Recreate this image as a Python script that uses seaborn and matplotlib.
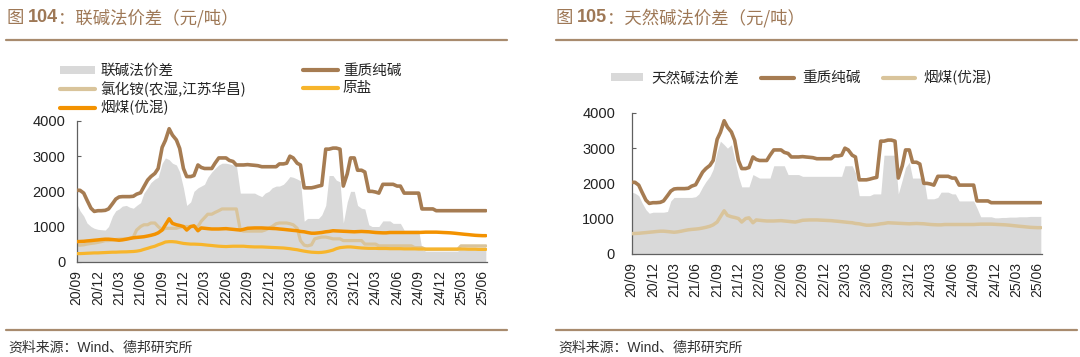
import numpy as np
import pandas as pd
import matplotlib
matplotlib.use('Agg')
import matplotlib.pyplot as plt
import seaborn as sns
from matplotlib.patches import Patch
from matplotlib.lines import Line2D
from matplotlib.text import Annotation
from matplotlib.font_manager import FontProperties

# ---------------- data (semi-monthly, 2020-09 .. 2025-06) ----------------
heavy_soda = [
    2030, 2030, 1950, 1750, 1520, 1430, 1450, 1450, 1460, 1500, 1650, 1780,
    1840, 1850, 1850, 1850, 1860, 1920, 1960, 2130, 2320, 2420, 2510, 2650,
    3250, 3450, 3780, 3600, 3460, 3220, 2650, 2420, 2420, 2450, 2750, 2680,
    2650, 2650, 2650, 2800, 2950, 2950, 2950, 2880, 2850, 2750, 2750, 2750,
    2760, 2750, 2740, 2730, 2700, 2700, 2700, 2700, 2700, 2780, 2780, 2800,
    3000, 2950, 2800, 2750, 2100, 2100, 2100, 2120, 2150, 2170, 3200, 3200,
    3230, 3230, 3200, 2150, 2500, 2950, 2950, 2600, 2600, 2550, 2000, 2000,
    1980, 1950, 2200, 2200, 2200, 2200, 2150, 2150, 1950, 1950, 1950, 1950,
    1950, 1500, 1500, 1500, 1500, 1450, 1450, 1450, 1450, 1450, 1450, 1450,
    1450, 1450, 1450, 1450, 1450, 1450, 1450, 1450,
]
nh4cl = [
    480, 470, 480, 500, 520, 530, 550, 570, 600, 600, 620, 630,
    640, 645, 650, 660, 700, 900, 1000, 1050, 1050, 1100, 1100, 1000,
    900, 950, 950, 950, 950, 980, 1000, 1000, 1000, 1000, 1000, 1150,
    1250, 1350, 1350, 1400, 1450, 1500, 1500, 1500, 1500, 1500, 900, 870,
    870, 870, 870, 870, 870, 900, 950, 1000, 1080, 1100, 1100, 1100,
    1080, 1050, 950, 600, 470, 450, 480, 650, 680, 700, 700, 680,
    650, 650, 650, 600, 600, 600, 600, 600, 600, 500, 500, 500,
    500, 450, 450, 450, 450, 450, 450, 450, 450, 450, 450, 400,
    400, 400, 350, 350, 350, 350, 350, 350, 350, 350, 350, 350,
    450, 450, 450, 450, 450, 450, 450, 450,
]
salt = [
    230, 230, 235, 240, 245, 250, 250, 255, 260, 265, 270, 270,
    275, 278, 280, 285, 290, 300, 320, 350, 380, 410, 440, 480,
    520, 560, 570, 570, 560, 540, 520, 510, 500, 500, 495, 490,
    480, 470, 460, 450, 440, 435, 430, 435, 440, 440, 440, 440,
    430, 425, 420, 420, 420, 415, 410, 405, 400, 395, 390, 380,
    370, 355, 340, 320, 300, 285, 270, 265, 260, 265, 280, 300,
    330, 370, 400, 410, 420, 420, 410, 400, 390, 385, 380, 380,
    380, 375, 375, 375, 370, 370, 370, 370, 365, 365, 365, 365,
    360, 360, 360, 360, 360, 360, 360, 360, 360, 360, 360, 360,
    360, 360, 355, 355, 355, 350, 350, 350,
]
coal = [
    570, 575, 580, 590, 600, 610, 620, 630, 640, 640, 630, 620,
    610, 620, 640, 660, 680, 690, 700, 710, 730, 750, 780, 820,
    900, 1050, 1220, 1090, 1050, 1030, 1000, 900, 1000, 1020, 880, 960,
    950, 940, 930, 930, 930, 935, 940, 930, 920, 910, 900, 920,
    950, 955, 960, 960, 960, 955, 950, 945, 940, 930, 920, 910,
    900, 890, 880, 860, 850, 830, 810, 810, 820, 830, 850, 860,
    880, 875, 870, 865, 860, 855, 850, 855, 860, 855, 850, 840,
    830, 825, 820, 820, 830, 830, 830, 830, 830, 830, 830, 830,
    830, 835, 840, 840, 840, 840, 835, 830, 825, 820, 810, 800,
    790, 780, 770, 760, 750, 745, 740, 740,
]
joint_spread = [
    1650, 1450, 1300, 1100, 1000, 950, 920, 910, 900, 1000, 1300, 1450,
    1500, 1580, 1600, 1550, 1520, 1600, 1680, 1950, 2100, 2250, 2350, 2400,
    2800, 2950, 2900, 2800, 2750, 2550, 2100, 1600, 1700, 2000, 2100, 2150,
    2200, 2400, 2550, 2650, 2750, 2800, 2800, 2780, 2750, 2750, 1950, 1950,
    1950, 1950, 1950, 1900, 1850, 1950, 2000, 2100, 2150, 2150, 2200, 2300,
    2420, 2400, 2350, 2300, 1150, 1230, 1230, 1230, 1230, 1330, 1600, 2450,
    2450, 2320, 2270, 1100, 1700, 2000, 2000, 1600, 1520, 1500, 1050, 1000,
    1000, 1000, 1160, 1160, 1160, 1090, 1090, 1090, 900, 900, 900, 900,
    900, 350, 300, 300, 300, 300, 300, 300, 300, 300, 300, 300,
    420, 420, 420, 420, 420, 420, 420, 420,
]
natural_spread = [
    1750, 1720, 1650, 1450, 1250, 1150, 1180, 1180, 1180, 1180, 1200, 1500,
    1600, 1600, 1600, 1600, 1600, 1600, 1620, 1700, 1900, 2050, 2200, 2400,
    2900, 3200, 3100, 3000, 3100, 2700, 2200, 1900, 1900, 1900, 2250, 2200,
    2150, 2150, 2150, 2150, 2500, 2500, 2500, 2500, 2250, 2250, 2250, 2250,
    2200, 2200, 2200, 2200, 2200, 2200, 2200, 2200, 2200, 2200, 2200, 2200,
    2500, 2500, 2500, 2300, 1650, 1650, 1650, 1650, 1700, 1700, 1700, 2800,
    2800, 2800, 2800, 1700, 2100, 2450, 2600, 2150, 2150, 2150, 2150, 1560,
    1560, 1560, 1600, 1750, 1750, 1750, 1700, 1700, 1500, 1500, 1500, 1500,
    1500, 1300, 1050, 1050, 1050, 1050, 1020, 1020, 1030, 1030, 1040, 1040,
    1040, 1050, 1050, 1050, 1060, 1060, 1060, 1060,
]
tick_labels = ['20/09', '20/12', '21/03', '21/06', '21/09', '21/12', '22/03',
               '22/06', '22/09', '22/12', '23/03', '23/06', '23/09', '23/12',
               '24/03', '24/06', '24/09', '24/12', '25/03', '25/06']
yticks = [0, 1000, 2000, 3000, 4000]

names_left = ['联碱法价差', '重质纯碱', '氯化铵(农湿,江苏华昌)', '原盐', '烟煤(优混)']
names_right = ['天然碱法价差', '重质纯碱', '烟煤(优混)']
title_left = ('图 ', '104', '：联碱法价差（元/吨）')
title_right = ('图 ', '105', '：天然碱法价差（元/吨）')
source = '资料来源：Wind、德邦研究所'

dates = pd.date_range('2020-09-01', periods=len(heavy_soda), freq='SMS')
tick_dates = pd.date_range('2020-09-01', periods=len(tick_labels), freq='3MS')

# ---------------- style ----------------
sns.set_theme(style='white')
plt.rcParams['font.family'] = ['Liberation Sans', 'Noto Sans CJK SC']
CJK = FontProperties(family=['Noto Sans CJK SC'], size=10.5)

C_GREY = '#D9D9D9'
C_BROWN = '#A67C52'
C_TAN = '#D9C49B'
C_SALT = '#F7B52C'
C_COAL = '#F39200'
C_TITLE = '#9E7856'
C_RULE = '#A88B6E'

W, H = 1080, 357
fig = plt.figure(figsize=(W / 100, H / 100), dpi=100)


def fx(px):
    return px / W


def fy(py):
    return 1 - py / H


def make_ax(x0, x1, ytop, ybot, pad_y):
    ax = fig.add_axes([fx(x0), fy(ybot), fx(x1 - x0), (ybot - ytop) / H])
    ax.set_xlim(dates[0], pd.Timestamp('2025-06-20'))
    ax.set_ylim(0, 4000)
    ax.set_yticks(yticks)
    ax.set_xticks(tick_dates)
    ax.set_xticklabels(tick_labels, rotation=90, fontsize=10, color='#222222')
    ax.tick_params(axis='y', labelsize=10.5, labelcolor='#222222', direction='in',
                   length=3, width=0.8, color='#606060', pad=pad_y, left=True)
    ax.tick_params(axis='x', direction='in', length=3, width=0.8, color='#606060',
                   pad=6, bottom=True)
    for s in ['top', 'right']:
        ax.spines[s].set_visible(False)
    for s in ['left', 'bottom']:
        ax.spines[s].set_color('#606060')
        ax.spines[s].set_linewidth(0.9)
    ax.grid(False)
    ax.set_facecolor('none')
    return ax


# ---------------- left chart ----------------
axL = make_ax(76.7, 487, 121, 261.7, 8)
axL.fill_between(dates, 0, joint_spread, color=C_GREY, lw=0, zorder=1)
sns.lineplot(x=dates, y=nh4cl, ax=axL, color=C_TAN, lw=2.3, zorder=2)
sns.lineplot(x=dates, y=salt, ax=axL, color=C_SALT, lw=2.3, zorder=3)
sns.lineplot(x=dates, y=coal, ax=axL, color=C_COAL, lw=2.5, zorder=4)
sns.lineplot(x=dates, y=heavy_soda, ax=axL, color=C_BROWN, lw=2.6, zorder=5)
axL.set_xlabel('')
axL.set_ylabel('')

hL = [Patch(facecolor=C_GREY, edgecolor='none'),
      Line2D([], [], color=C_TAN, lw=3),
      Line2D([], [], color=C_COAL, lw=3),
      Line2D([], [], color=C_BROWN, lw=3),
      Line2D([], [], color=C_SALT, lw=3)]
lL = [names_left[0], names_left[2], names_left[4], names_left[1], names_left[3]]
fig.legend(hL, lL, loc='upper left', bbox_to_anchor=(fx(60), fy(64)), ncol=2,
           frameon=False, prop=CJK, handlelength=2.4, handleheight=0.45,
           handletextpad=0.35, labelspacing=0.22, columnspacing=3.9,
           borderpad=0, borderaxespad=0)

# ---------------- right chart ----------------
axR = make_ax(631.7, 1042, 113, 253.7, 12)
axR.fill_between(dates, 0, natural_spread, color=C_GREY, lw=0, zorder=1)
sns.lineplot(x=dates, y=coal, ax=axR, color=C_TAN, lw=2.5, zorder=3)
sns.lineplot(x=dates, y=heavy_soda, ax=axR, color=C_BROWN, lw=2.6, zorder=4)
axR.set_xlabel('')
axR.set_ylabel('')

hR = [Patch(facecolor=C_GREY, edgecolor='none'),
      Line2D([], [], color=C_BROWN, lw=3),
      Line2D([], [], color=C_TAN, lw=3)]
fig.legend(hR, names_right, loc='upper left', bbox_to_anchor=(fx(611), fy(70)), ncol=3,
           frameon=False, prop=CJK, handlelength=2.2, handleheight=0.45,
           handletextpad=0.6, columnspacing=1.5, borderpad=0, borderaxespad=0)

# ---------------- titles, rules, sources ----------------
def title(x, parts):
    t1 = fig.text(fx(x), fy(18), parts[0], va='center', ha='left', color=C_TITLE,
                  fontsize=12.5, family=['Noto Sans CJK SC'])
    t2 = Annotation(parts[1], xy=(1, 0.5), xycoords=t1, va='center', ha='left',
                    color=C_TITLE, fontsize=13, fontweight='bold',
                    family=['Liberation Sans'])
    fig.add_artist(t2)
    t3 = Annotation(parts[2], xy=(1, 0.5), xycoords=t2, va='center', ha='left',
                    color=C_TITLE, fontsize=12.5, family=['Noto Sans CJK SC'])
    fig.add_artist(t3)


title(7, title_left)
title(556, title_right)

for (a, b) in [(6, 507), (556, 1077)]:
    for yy in [40, 330]:
        fig.add_artist(Line2D([fx(a), fx(b)], [fy(yy), fy(yy)], color=C_RULE,
                              lw=1.6, transform=fig.transFigure))

fig.text(fx(8), fy(348), source, va='center', ha='left', fontsize=10,
         color='#333333', family=['Liberation Sans', 'Noto Sans CJK SC'])
fig.text(fx(558), fy(348), source, va='center', ha='left', fontsize=10,
         color='#333333', family=['Liberation Sans', 'Noto Sans CJK SC'])

fig.savefig('out.png', dpi=100, facecolor='white')
